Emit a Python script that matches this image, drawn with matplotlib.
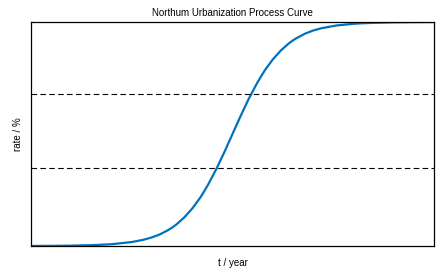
import matplotlib
matplotlib.use("Agg")
import matplotlib.pyplot as plt

# values (t in years, rate in %)
t = [0, 5, 10, 15, 20, 25, 28, 30, 32, 34, 35, 36, 38, 40, 42, 43, 44, 46, 48, 50,
     52, 54, 56, 57, 58, 60, 62, 64, 65, 66, 68, 70, 72, 75, 76, 80, 82, 85, 90, 95, 100]
rate = [0.03, 0.07, 0.16, 0.36, 0.79, 1.76, 2.82, 3.85, 5.2, 7.07, 8.2, 9.5, 12.7, 16.7, 21.6, 24.5, 27.6, 34.4, 42.0, 50.0,
        58.0, 65.6, 72.4, 75.5, 78.4, 83.3, 87.3, 90.5, 91.8, 92.9, 94.8, 96.2, 97.2, 98.2, 98.5, 99.2, 99.42, 99.64, 99.84, 99.93, 99.97]

# dashed reference levels (%)
levels = [35, 68]

plt.rcParams['font.family'] = ['Liberation Sans', 'DejaVu Sans']

fig = plt.figure(figsize=(4.42, 2.72), dpi=100)
ax = fig.add_axes([0.0701, 0.0956, 0.9119, 0.8235])

ax.plot(t, rate, color='#0072BD', linewidth=1.6)
for lv in levels:
    ax.axhline(lv, color='black', linestyle=(0, (5, 3)), linewidth=0.8)

ax.set_xlim(0, 100)
ax.set_ylim(0, 100)
ax.set_xticks([])
ax.set_yticks([])
for s in ax.spines.values():
    s.set_linewidth(0.9)
    s.set_color('black')

ax.set_title("Northum Urbanization Process Curve", fontsize=7, pad=4)
ax.set_xlabel("t / year", fontsize=7, labelpad=9)
ax.set_ylabel("rate / %", fontsize=7, labelpad=6)

fig.savefig("out.png", dpi=100)
